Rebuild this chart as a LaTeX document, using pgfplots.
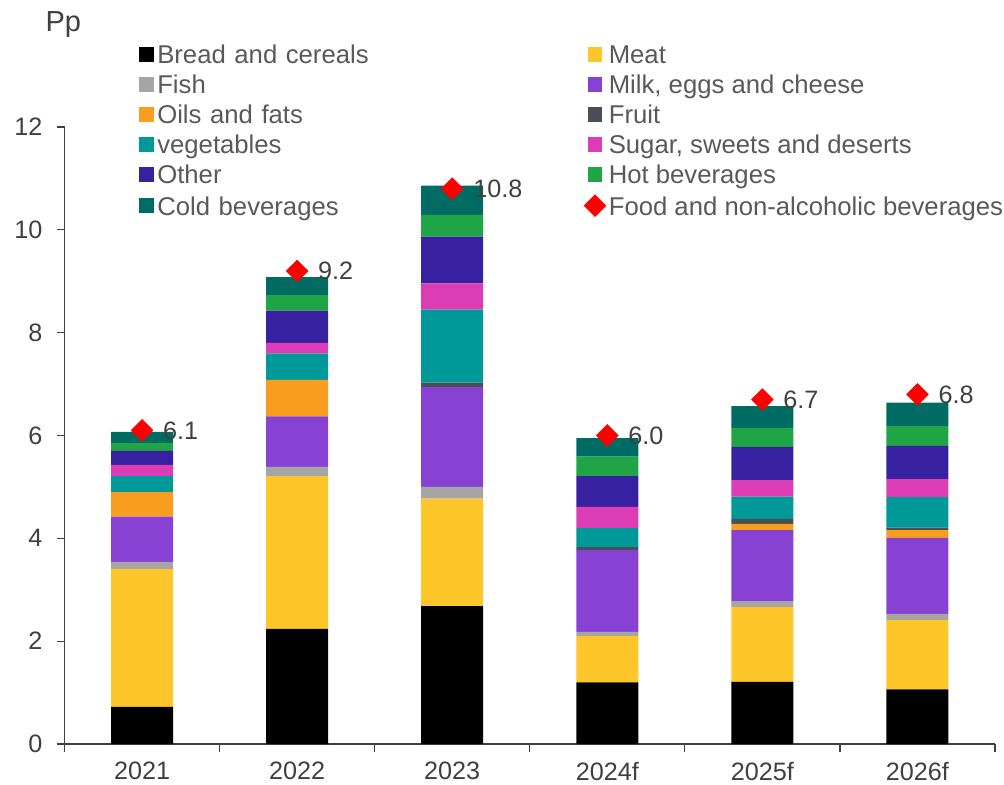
\documentclass[border=0pt]{standalone}
\usepackage{fontspec}
\setmainfont{Liberation Sans}
\usepackage{pgfplots}
\usepackage{pgfplotstable}
\pgfplotsset{compat=1.18}
\definecolor{cBread}{HTML}{000000}
\definecolor{cMeat}{HTML}{FFC629}
\definecolor{cFish}{HTML}{A5A5A5}
\definecolor{cMilk}{HTML}{8741D3}
\definecolor{cOils}{HTML}{F99D20}
\definecolor{cFruit}{HTML}{4A4F55}
\definecolor{cVeg}{HTML}{00999A}
\definecolor{cSugar}{HTML}{DC3DB4}
\definecolor{cOther}{HTML}{3721A0}
\definecolor{cHot}{HTML}{20A546}
\definecolor{cCold}{HTML}{006B63}
\definecolor{cText}{HTML}{404040}
\definecolor{cLeg}{HTML}{595959}
\newcommand{\fs}{\fontsize{12.6}{15}\selectfont}
\newcommand{\fl}{\fontsize{12.85}{15}\selectfont}
\pgfplotsset{
  sqleg/.style={legend image code/.code={\fill[##1] (-0.2pt,-0.8pt) rectangle (7.2pt,6.6pt);}},
  diamleg/.style={legend image code/.code={\draw[##1] plot coordinates {(3.5pt,2.9pt)};}},
  common/.style={
    scale only axis,
    width=465.25pt, height=308.5pt,
    xmin=-0.5, xmax=5.5, ymin=0, ymax=12,
    clip=false,
  },
}

\pgfplotstableread{
x bread meat fish milk oils fruit veg sugar other hot cold
0 0.72 2.68 0.14 0.88 0.48 0.00 0.31 0.22 0.27 0.15 0.22
1 2.24 2.97 0.18 0.98 0.71 0.00 0.51 0.21 0.63 0.30 0.35
2 2.68 2.09 0.23 1.94 0.00 0.09 1.42 0.51 0.91 0.42 0.57
3 1.20 0.90 0.08 1.59 0.00 0.06 0.37 0.41 0.60 0.38 0.36
4 1.21 1.45 0.12 1.38 0.12 0.10 0.43 0.32 0.65 0.37 0.42
5 1.06 1.35 0.12 1.48 0.15 0.05 0.59 0.35 0.65 0.38 0.46
}\bars

\pgfplotstableread{
x total label
0 6.1 6.1
1 9.2 9.2
2 10.8 10.8
3 6.0 6.0
4 6.7 6.7
5 6.8 6.8
}\totals

\begin{document}
\begin{tikzpicture}
\begin{axis}[
  common,
  ybar stacked, bar width=31pt,
  axis x line*=bottom, axis y line*=left,
  axis line style={cText, line width=0.6pt},
  tick align=outside, major tick length=4pt,
  tick style={cText, line width=0.6pt},
  xtick={0,...,5},
  xticklabels={2021,2022,2023,2024f,2025f,2026f},
  xtick style={draw=none},
  extra x ticks={-0.5,0.5,1.5,2.5,3.5,4.5,5.5},
  extra x tick labels={},
  extra x tick style={xtick style={draw=cText}},
  ytick={0,2,...,12},
  /pgf/number format/assume math mode=true,
  tick label style={font=\fs, text=cText},
  xticklabel style={yshift=-1.5pt},
  yticklabel style={xshift=-3.5pt},
  ylabel={Pp},
  every axis y label/.style={at={(axis description cs:0,1)}, anchor=base west, xshift=-13pt, yshift=47.5pt, font=\fontsize{14.5}{17}\selectfont, text=cText},
]
\addplot[fill=cBread, draw=none] table[x=x, y=bread] {\bars};
\addplot[fill=cMeat, draw=none] table[x=x, y=meat] {\bars};
\addplot[fill=cFish, draw=none] table[x=x, y=fish] {\bars};
\addplot[fill=cMilk, draw=none] table[x=x, y=milk] {\bars};
\addplot[fill=cOils, draw=none] table[x=x, y=oils] {\bars};
\addplot[fill=cFruit, draw=none] table[x=x, y=fruit] {\bars};
\addplot[fill=cVeg, draw=none] table[x=x, y=veg] {\bars};
\addplot[fill=cSugar, draw=none] table[x=x, y=sugar] {\bars};
\addplot[fill=cOther, draw=none] table[x=x, y=other] {\bars};
\addplot[fill=cHot, draw=none] table[x=x, y=hot] {\bars};
\addplot[fill=cCold, draw=none] table[x=x, y=cold] {\bars};
\coordinate (bl) at (rel axis cs:0,0);
\coordinate (tr) at (rel axis cs:1,1);
\end{axis}
\begin{axis}[
  common,
  hide axis,
  legend columns=2,
  legend cell align=left,
  sqleg,
  legend style={at={(axis description cs:0.0806,1.133)}, anchor=north west,
    draw=none, fill=none, inner sep=0pt, outer sep=0pt,
    font=\fl, row sep=0pt, column sep=0pt,
    nodes={inner xsep=1.5pt, inner ysep=0pt, text height=9.5pt, text depth=5.5pt, text=cLeg},
    /tikz/column 2/.style={nodes={text width=212pt, align=left}}},
]
\addlegendimage{fill=cBread, draw=none}
\addlegendentry{Bread and cereals}
\addlegendimage{fill=cMeat, draw=none}
\addlegendentry{Meat}
\addlegendimage{fill=cFish, draw=none}
\addlegendentry{Fish}
\addlegendimage{fill=cMilk, draw=none}
\addlegendentry{Milk, eggs and cheese}
\addlegendimage{fill=cOils, draw=none}
\addlegendentry{Oils and fats}
\addlegendimage{fill=cFruit, draw=none}
\addlegendentry{Fruit}
\addlegendimage{fill=cVeg, draw=none}
\addlegendentry{vegetables}
\addlegendimage{fill=cSugar, draw=none}
\addlegendentry{Sugar, sweets and deserts}
\addlegendimage{fill=cOther, draw=none}
\addlegendentry{Other}
\addlegendimage{fill=cHot, draw=none}
\addlegendentry{Hot beverages}
\addlegendimage{fill=cCold, draw=none}
\addlegendentry{Cold beverages}
\addplot[only marks, color=red,
  mark=square*, mark size=3.8pt, mark options={rotate=45, fill=red, draw=none},
  point meta=explicit symbolic,
  nodes near coords,
  nodes near coords style={anchor=west, xshift=7pt, text=cText, font=\fs},
  diamleg
  ] table[x=x, y=total, meta=label] {\totals};
\addlegendentry{Food and non-alcoholic beverages}
\end{axis}
\pgfresetboundingbox
\useasboundingbox ([shift={(-32.25pt,-20.5pt)}]bl) rectangle ([shift={(4.5pt,63.5pt)}]tr);
\end{tikzpicture}
\end{document}
